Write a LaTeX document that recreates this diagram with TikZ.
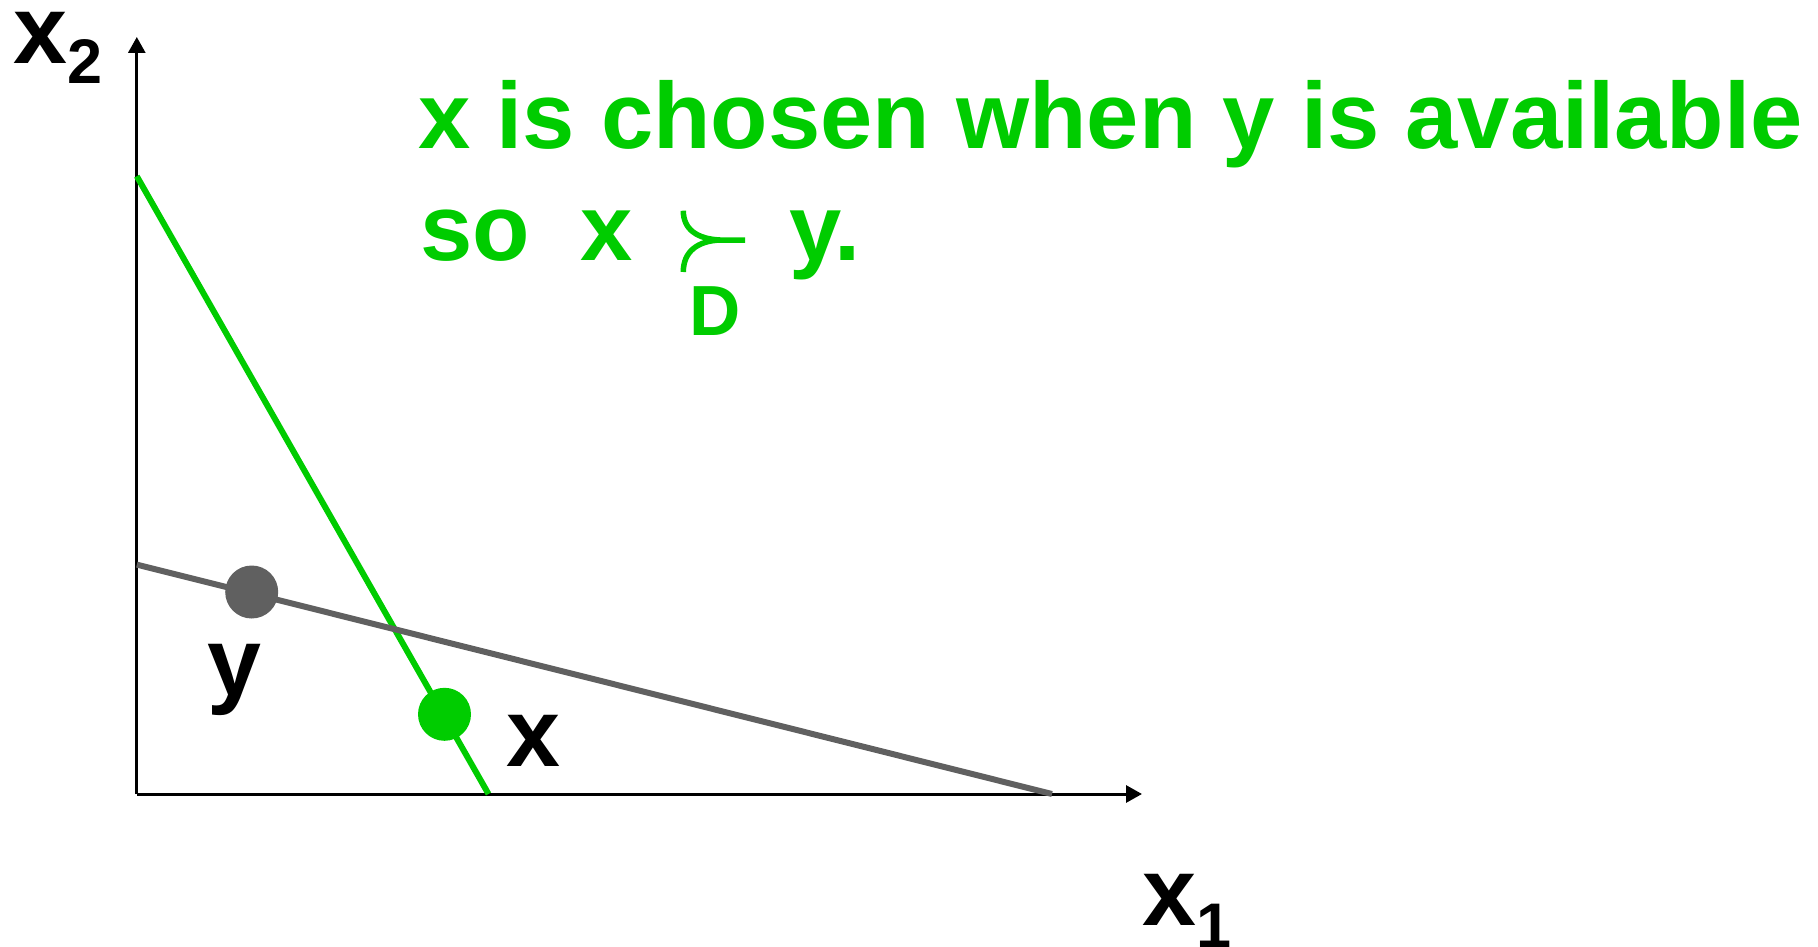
\documentclass[tikz,border=0pt]{standalone}
\usepackage{fontspec}
\setmainfont{Liberation Sans}
\usetikzlibrary{arrows.meta}
\definecolor{ggreen}{RGB}{0,204,0}
\definecolor{dgray}{RGB}{96,96,96}
\begin{document}
\begin{tikzpicture}[x=1pt,y=-1pt,
  axisline/.style={line width=3pt,-{Triangle[length=16pt,width=17pt]}},
  biglabel/.style={font=\fontsize{97}{110}\selectfont\bfseries, inner sep=0pt, anchor=base west},
  greentext/.style={font=\fontsize{94}{110}\selectfont\bfseries, text=ggreen, inner sep=0pt, anchor=base west},
  budget/.style={line width=6pt},
  dot/.style={circle, inner sep=0pt, minimum size=53pt}]
\useasboundingbox (0,0) rectangle (1818,947);
% axes
\coordinate (O) at (136.8,794);
\coordinate (Ytip) at (136.8,37);
\coordinate (Xtip) at (1142,794);
\draw[axisline] (O) -- (Ytip);
\draw[axisline] (O) -- (Xtip);
% budget lines
\coordinate (G1) at (136.8,176.2);
\coordinate (G2) at (488.5,794);
\coordinate (B1) at (136.8,564.6);
\coordinate (B2) at (1052,794);
\draw[budget, ggreen] (G1) -- (G2);
\draw[budget, dgray] (B1) -- (B2);
% points
\node[dot, fill=dgray] (ydot) at (251.7,592) {};
\node[dot, fill=ggreen] (xdot) at (444.5,714.3) {};
% labels
\node[biglabel] (ylab) at (207,695) {y};
\node[biglabel] (xlab) at (506,766) {x};
\node[biglabel] (x2lab) at (13,64) {x\raisebox{-20pt}{\fontsize{63}{63}\selectfont 2}};
\node[biglabel] (x1lab) at (1142,925) {x\raisebox{-22pt}{\fontsize{63}{63}\selectfont 1}};
% green text
\node[greentext] (line1) at (418,148.3) {x is chosen when y is available};
\node[greentext] (so) at (420,260) {so};
\node[greentext] (xso) at (580,260) {x};
\node[greentext] (yso) at (789,260) {y.};
\node[font=\fontsize{71}{80}\selectfont\bfseries, text=ggreen, inner sep=0pt, anchor=base west] (Dsub) at (689,335) {D};
% succ symbol
\draw[ggreen, line width=5.5pt]
  (683.3,210.7) .. controls (683.3,230) and (698,239) .. (720,240) -- (745,240)
  (720,240) .. controls (697,241) and (683.3,252) .. (683.3,272);
\end{tikzpicture}
\end{document}
